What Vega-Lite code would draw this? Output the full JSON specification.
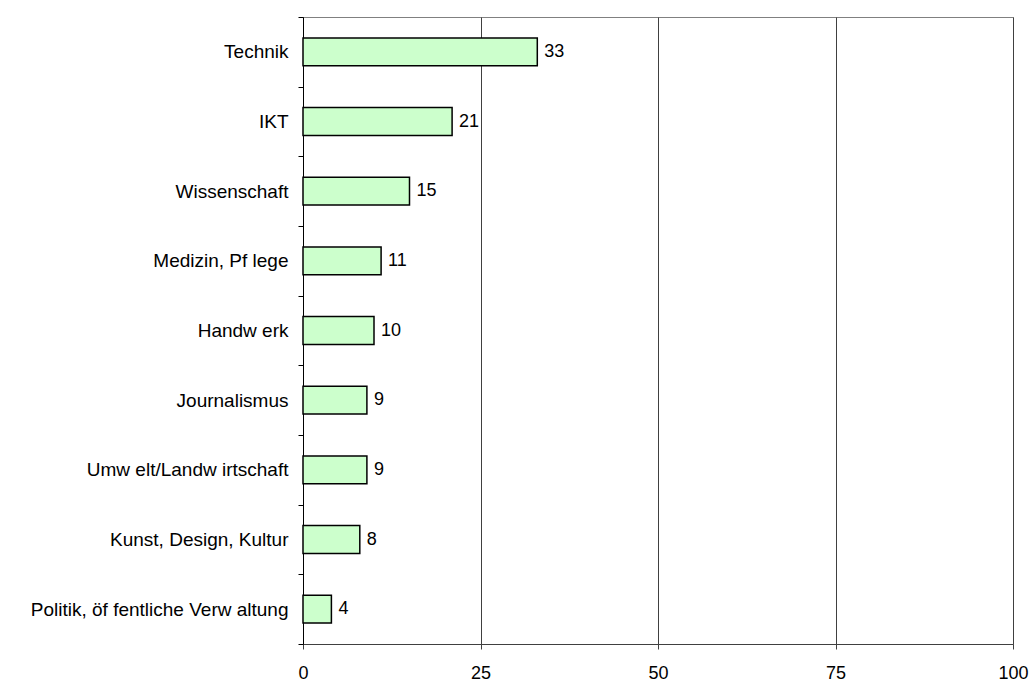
{
  "$schema": "https://vega.github.io/schema/vega-lite/v6.json",
  "autosize": {"type": "none"},
  "padding": {"left": 303, "top": 17, "right": 22, "bottom": 38},
  "width": 710,
  "height": 627,
  "background": "white",
  "config": {
    "font": "Liberation Sans",
    "view": {"stroke": "#808080", "strokeWidth": 1}
  },
  "data": {
    "values": [
      {"cat": "Technik", "v": 33},
      {"cat": "IKT", "v": 21},
      {"cat": "Wissenschaft", "v": 15},
      {"cat": "Medizin, Pf lege", "v": 11},
      {"cat": "Handw erk", "v": 10},
      {"cat": "Journalismus", "v": 9},
      {"cat": "Umw elt/Landw irtschaft", "v": 9},
      {"cat": "Kunst, Design, Kultur", "v": 8},
      {"cat": "Politik, öf fentliche Verw altung", "v": 4}
    ]
  },
  "encoding": {
    "y": {
      "field": "cat", "type": "nominal", "sort": null,
      "scale": {"paddingInner": 0, "paddingOuter": 0},
      "axis": {
        "title": null, "domainColor": "black", "tickColor": "black",
        "tickSize": 5, "tickBand": "extent", "labelFontSize": 19,
        "labelColor": "black", "labelPadding": 10, "labelLimit": 400,
        "labelFont": "Liberation Sans"
      }
    },
    "x": {
      "field": "v", "type": "quantitative",
      "scale": {"domain": [0, 100], "nice": false},
      "axis": {
        "title": null, "values": [0, 25, 50, 75, 100], "grid": true,
        "gridColor": "#404040", "gridOpacity": 1, "domainColor": "#404040",
        "tickColor": "#404040", "tickSize": 5, "labelFontSize": 18,
        "labelColor": "black", "labelPadding": 15, "labelFlush": false,
        "labelFont": "Liberation Sans"
      }
    }
  },
  "layer": [
    {
      "mark": {"type": "bar", "fill": "#CCFFCC", "stroke": "black", "strokeWidth": 1.5, "height": {"band": 0.4}}
    },
    {
      "mark": {"type": "text", "align": "left", "dx": 7, "fontSize": 18, "color": "black", "font": "Liberation Sans"},
      "encoding": {"text": {"field": "v", "type": "quantitative"}}
    }
  ]
}
